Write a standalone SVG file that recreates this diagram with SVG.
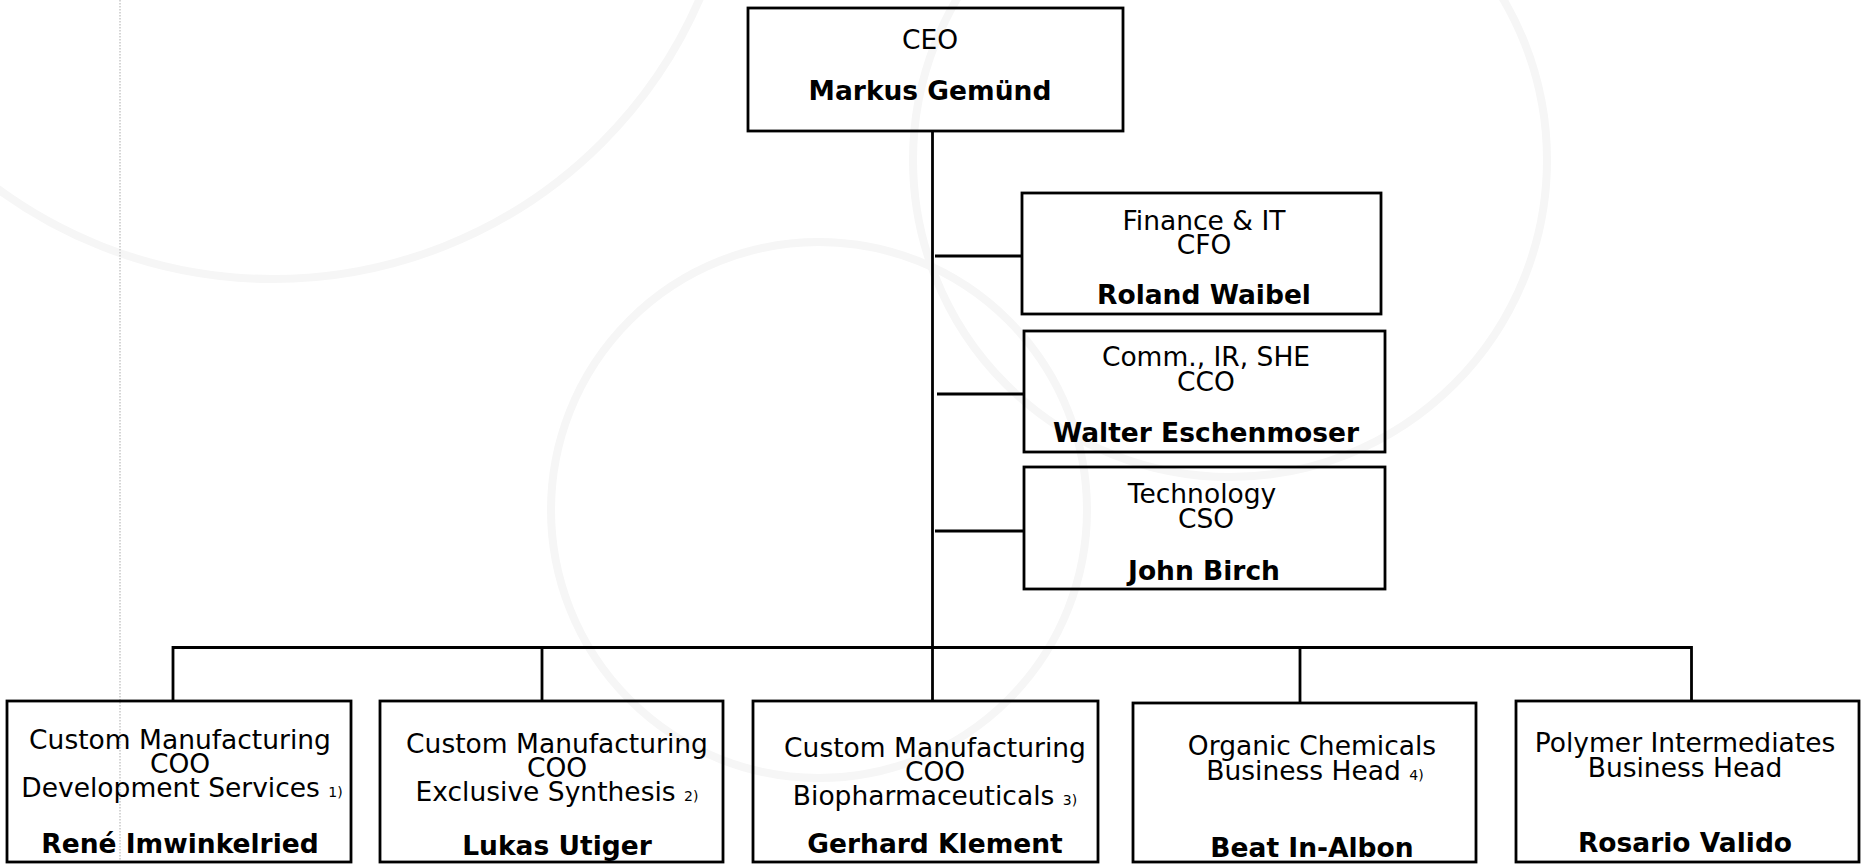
<svg xmlns="http://www.w3.org/2000/svg" width="1861" height="864" viewBox="0 0 1861 864">
<style>
.bg{fill:none;stroke:#f6f6f6;stroke-width:8}
.box{fill:none;stroke:#000;stroke-width:2.8}
.ln{fill:none;stroke:#000;stroke-width:2.8}
text{font-family:"DejaVu Sans","Verdana",sans-serif;font-size:26.5px;fill:#000;text-anchor:middle}
.b{font-weight:bold}
.fn{font-size:14px}
</style>
<rect x="0" y="0" width="1861" height="864" fill="#fff"/>
<g id="background">
<circle class="bg" cx="273" cy="-186" r="465"/>
<circle class="bg" cx="1230" cy="160" r="317"/>
<circle class="bg" cx="819" cy="510" r="268"/>
<line x1="120" y1="0" x2="120" y2="864" stroke="#c8c8c8" stroke-width="1.5" stroke-dasharray="1.5 1.5"/>
</g>
<g id="connectors">
<line class="ln" x1="932.5" y1="131" x2="932.5" y2="648"/>
<line class="ln" x1="935" y1="256" x2="1022" y2="256"/>
<line class="ln" x1="937" y1="394" x2="1024" y2="394"/>
<line class="ln" x1="935" y1="531" x2="1024" y2="531"/>
<polyline class="ln" points="173,701 173,647.5 1691.5,647.5 1691.5,701"/>
<line class="ln" x1="542" y1="647.5" x2="542" y2="701"/>
<line class="ln" x1="932.5" y1="647.5" x2="932.5" y2="701"/>
<line class="ln" x1="1300" y1="647.5" x2="1300" y2="703"/>
</g>
<g id="ceo">
<rect class="box" x="748" y="8" width="375" height="123"/>
<text x="930" y="48.5">CEO</text>
<text class="b" x="930" y="99.5">Markus Gemünd</text>
</g>
<g id="cfo">
<rect class="box" x="1022" y="193" width="359" height="121"/>
<text><tspan x="1204" y="229.5">Finance &amp; IT</tspan><tspan x="1204" y="253.5">CFO</tspan></text>
<text class="b" x="1204" y="304">Roland Waibel</text>
</g>
<g id="cco">
<rect class="box" x="1024" y="331" width="361" height="121"/>
<text><tspan x="1206" y="366">Comm., IR, SHE</tspan><tspan x="1206" y="390.5">CCO</tspan></text>
<text class="b" x="1206" y="442">Walter Eschenmoser</text>
</g>
<g id="cso">
<rect class="box" x="1024" y="467" width="361" height="122"/>
<text><tspan x="1202" y="502.5">Technology</tspan><tspan x="1206" y="527.5">CSO</tspan></text>
<text class="b" x="1204" y="580">John Birch</text>
</g>
<g id="coo-ds">
<rect class="box" x="7" y="701" width="344" height="161"/>
<text><tspan x="180" y="748.5">Custom Manufacturing</tspan><tspan x="180" y="772.5">COO</tspan><tspan x="182" y="796.5">Development Services <tspan class="fn">1)</tspan></tspan></text>
<text class="b" x="180" y="852.5">René Imwinkelried</text>
</g>
<g id="coo-es">
<rect class="box" x="380" y="701" width="343" height="161"/>
<text><tspan x="557" y="753">Custom Manufacturing</tspan><tspan x="557" y="777">COO</tspan><tspan x="557" y="801">Exclusive Synthesis <tspan class="fn">2)</tspan></tspan></text>
<text class="b" x="557" y="855">Lukas Utiger</text>
</g>
<g id="coo-bio">
<rect class="box" x="753" y="701" width="345" height="161"/>
<text><tspan x="935" y="757">Custom Manufacturing</tspan><tspan x="935" y="781">COO</tspan><tspan x="935" y="805">Biopharmaceuticals <tspan class="fn">3)</tspan></tspan></text>
<text class="b" x="935" y="853">Gerhard Klement</text>
</g>
<g id="organic">
<rect class="box" x="1133" y="703" width="343" height="159"/>
<text><tspan x="1312" y="755">Organic Chemicals</tspan><tspan x="1315" y="779.5">Business Head <tspan class="fn">4)</tspan></tspan></text>
<text class="b" x="1312" y="857">Beat In-Albon</text>
</g>
<g id="polymer">
<rect class="box" x="1516" y="701" width="343" height="161"/>
<text><tspan x="1685" y="752">Polymer Intermediates</tspan><tspan x="1685" y="776.5">Business Head</tspan></text>
<text class="b" x="1685" y="852">Rosario Valido</text>
</g>
</svg>
